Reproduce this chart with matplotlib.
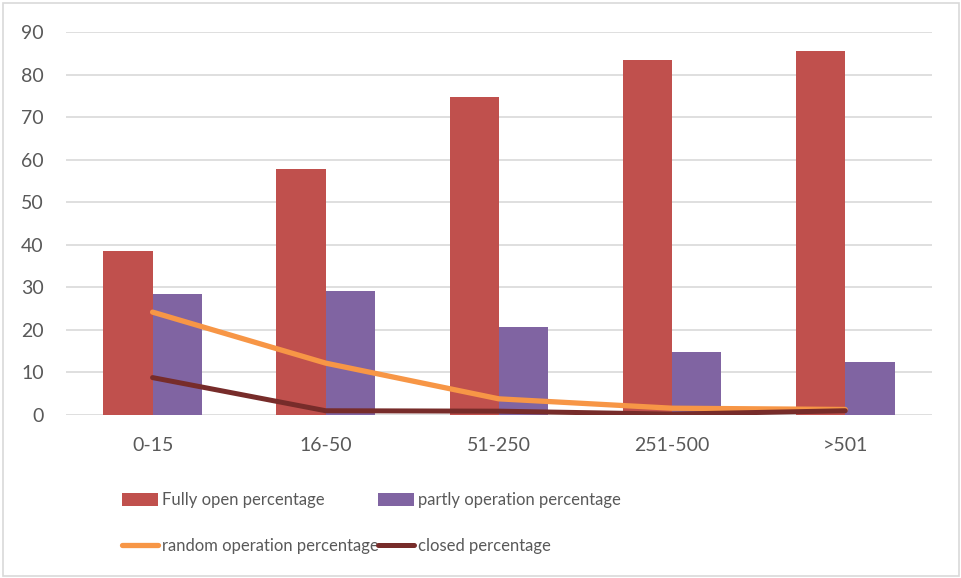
import numpy as np
import matplotlib.pyplot as plt
from matplotlib.patches import Rectangle

plt.rcParams['font.family'] = ['Lato', 'DejaVu Sans']

categories = ['0-15', '16-50', '51-250', '251-500', '>501']
fully_open = [38.6, 57.9, 74.7, 83.5, 85.6]
partly_operation = [28.4, 29.2, 20.7, 14.9, 12.4]
random_operation = [24.2, 12.2, 3.8, 1.6, 1.3]
closed = [8.8, 1.0, 0.9, 0.2, 1.0]

text_grey = '#595959'
grid_grey = '#D9D9D9'

fig = plt.figure(figsize=(9.62, 5.78), dpi=100)
ax = fig.add_axes([0.0686, 0.282, 0.9, 0.662])

x = np.arange(len(categories))
w = 0.285
b1 = ax.bar(x - w / 2, fully_open, w, color='#C0504D', zorder=2,
            label='Fully open percentage')
b2 = ax.bar(x + w / 2, partly_operation, w, color='#8064A2', zorder=2,
            label='partly operation percentage')
l1, = ax.plot(x, random_operation, color='#F79646', lw=3.8, zorder=3,
              solid_capstyle='round', solid_joinstyle='round',
              label='random operation percentage')
l2, = ax.plot(x, closed, color='#772C2A', lw=3.6, zorder=4,
              solid_capstyle='round', solid_joinstyle='round',
              label='closed percentage')

ax.set_xlim(-0.5, len(categories) - 0.5)
ax.set_ylim(0, 90)
ax.set_yticks(range(0, 91, 10))
ax.set_xticks(x)
ax.set_xticklabels(categories)
ax.yaxis.grid(True, color=grid_grey, lw=1.2, zorder=0)
ax.set_axisbelow(True)
for s in ax.spines.values():
    s.set_visible(False)
ax.tick_params(length=0, labelsize=14, labelcolor=text_grey)
ax.tick_params(axis='x', pad=16)
ax.tick_params(axis='y', pad=16)

# legend, filled column-wise so rows read as in the original
leg = fig.legend([b1, l1, b2, l2],
                 [b1.get_label(), l1.get_label(), b2.get_label(), l2.get_label()],
                 ncol=2, loc='upper left', bbox_to_anchor=(0.1265, 0.148),
                 frameon=False, labelcolor=text_grey, fontsize=12,
                 handlelength=2.15, handleheight=0.78, handletextpad=0.25,
                 columnspacing=0.0, labelspacing=1.8, borderpad=0,
                 borderaxespad=0)

# thin outer border like the exported chart
fig.patches.append(Rectangle((0.003, 0.003), 0.994, 0.992, transform=fig.transFigure,
                             fill=False, edgecolor='#D9D9D9', lw=1.2))

fig.savefig('out.png', dpi=100)
